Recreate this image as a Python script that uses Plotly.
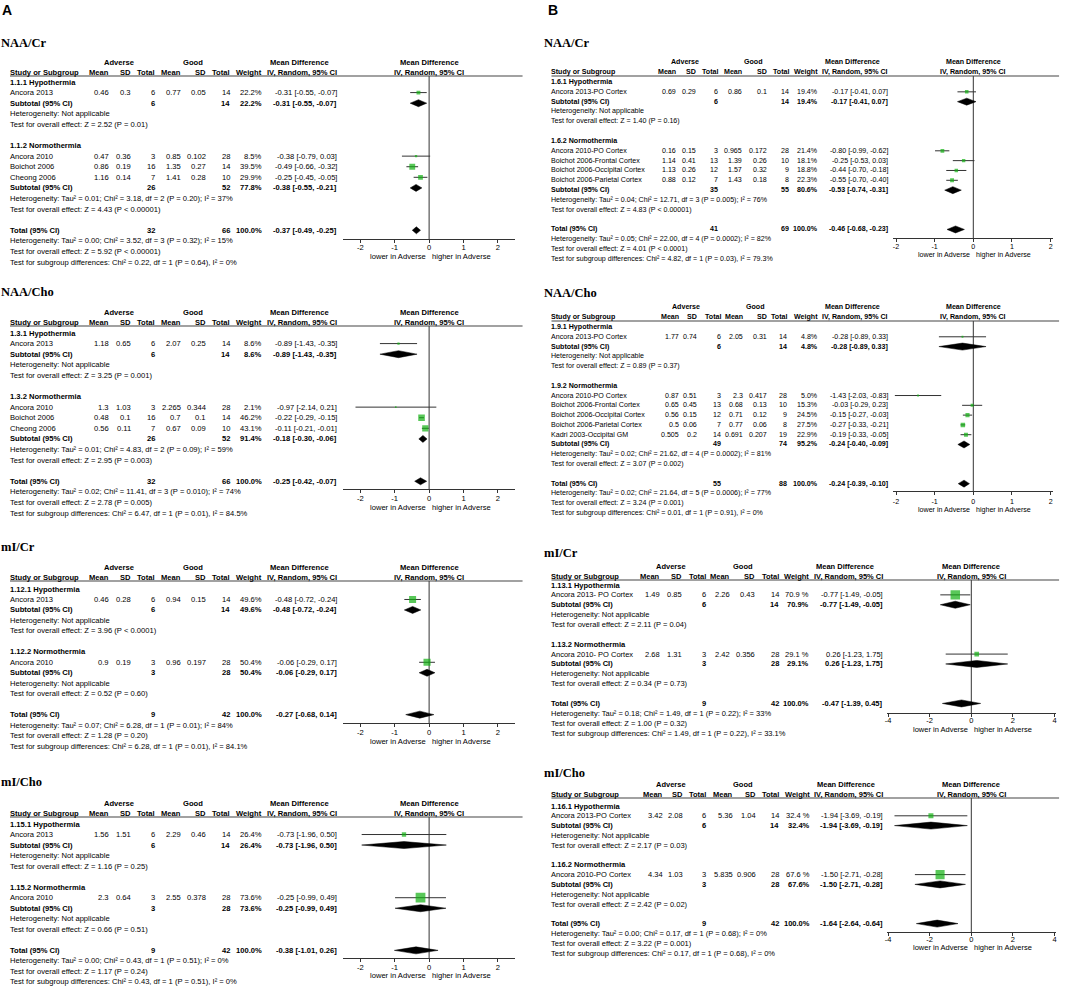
import plotly.graph_objects as go

W, H = 1084, 987
SANS = "Liberation Sans, Arial, sans-serif"
SERIF = "Times New Roman, Liberation Serif, serif"
GREEN = "#12b012"

# ---------------- data ----------------
HEAD_TOP = ["Adverse", "Good", "Mean Difference"]
HEAD_COLS = ["Mean", "SD", "Total", "Mean", "SD", "Total", "Weight", "IV, Random, 95% CI"]
HEAD_STUDY = "Study or Subgroup"
FOREST_HEAD = ["Mean Difference", "IV, Random, 95% CI"]
FAVOURS = ["lower in Adverse", "higher in Adverse"]
TICKS_2 = [-2, -1, 0, 1, 2]
TICK_TEXT_2 = ["-2", "-1", "0", "1", "2"]
TICKS_4 = [-4, -2, 0, 2, 4]
TICK_TEXT_4 = ["-4", "-2", "0", "2", "4"]
NA = "Heterogeneity: Not applicable"

# study rows: group, name, adverse mean, sd, total, good mean, sd, total, weight, md, lower, upper
# subtotal / total: adverse total, good total, weight, md, lower, upper

# A - NAA/Cr
A1_GROUPS = ["1.1.1 Hypothermia", "1.1.2 Normothermia"]
A1_STUDIES = [
    (0, "Ancora 2013", 0.46, 0.3, 6, 0.77, 0.05, 14, 22.2, -0.31, -0.55, -0.07),
    (1, "Ancora 2010", 0.47, 0.36, 3, 0.85, 0.102, 28, 8.5, -0.38, -0.79, 0.03),
    (1, "Boichot 2006", 0.86, 0.19, 16, 1.35, 0.27, 14, 39.5, -0.49, -0.66, -0.32),
    (1, "Cheong 2006", 1.16, 0.14, 7, 1.41, 0.28, 10, 29.9, -0.25, -0.45, -0.05),
]
A1_SUBTOTALS = [(6, 14, 22.2, -0.31, -0.55, -0.07), (26, 52, 77.8, -0.38, -0.55, -0.21)]
A1_TOTAL = (32, 66, 100.0, -0.37, -0.49, -0.25)
A1_NOTES = [
    [NA, "Test for overall effect: Z = 2.52 (P = 0.01)"],
    ["Heterogeneity: Tau² = 0.01; Chi² = 3.18, df = 2 (P = 0.20); I² = 37%",
     "Test for overall effect: Z = 4.43 (P < 0.00001)"],
    ["Heterogeneity: Tau² = 0.00; Chi² = 3.52, df = 3 (P = 0.32); I² = 15%",
     "Test for overall effect: Z = 5.92 (P < 0.00001)",
     "Test for subgroup differences: Chi² = 0.22, df = 1 (P = 0.64), I² = 0%"],
]

# A - NAA/Cho
A2_GROUPS = ["1.3.1 Hypothermia", "1.3.2 Normothermia"]
A2_STUDIES = [
    (0, "Ancora 2013", 1.18, 0.65, 6, 2.07, 0.25, 14, 8.6, -0.89, -1.43, -0.35),
    (1, "Ancora 2010", 1.3, 1.03, 3, 2.265, 0.344, 28, 2.1, -0.97, -2.14, 0.21),
    (1, "Boichot 2006", 0.48, 0.1, 16, 0.7, 0.1, 14, 46.2, -0.22, -0.29, -0.15),
    (1, "Cheong 2006", 0.56, 0.11, 7, 0.67, 0.09, 10, 43.1, -0.11, -0.21, -0.01),
]
A2_SUBTOTALS = [(6, 14, 8.6, -0.89, -1.43, -0.35), (26, 52, 91.4, -0.18, -0.30, -0.06)]
A2_TOTAL = (32, 66, 100.0, -0.25, -0.42, -0.07)
A2_NOTES = [
    [NA, "Test for overall effect: Z = 3.25 (P = 0.001)"],
    ["Heterogeneity: Tau² = 0.01; Chi² = 4.83, df = 2 (P = 0.09); I² = 59%",
     "Test for overall effect: Z = 2.95 (P = 0.003)"],
    ["Heterogeneity: Tau² = 0.02; Chi² = 11.41, df = 3 (P = 0.010); I² = 74%",
     "Test for overall effect: Z = 2.78 (P = 0.005)",
     "Test for subgroup differences: Chi² = 6.47, df = 1 (P = 0.01), I² = 84.5%"],
]

# A - mI/Cr
A3_GROUPS = ["1.12.1 Hypothermia", "1.12.2 Normothermia"]
A3_STUDIES = [
    (0, "Ancora 2013", 0.46, 0.28, 6, 0.94, 0.15, 14, 49.6, -0.48, -0.72, -0.24),
    (1, "Ancora 2010", 0.9, 0.19, 3, 0.96, 0.197, 28, 50.4, -0.06, -0.29, 0.17),
]
A3_SUBTOTALS = [(6, 14, 49.6, -0.48, -0.72, -0.24), (3, 28, 50.4, -0.06, -0.29, 0.17)]
A3_TOTAL = (9, 42, 100.0, -0.27, -0.68, 0.14)
A3_NOTES = [
    [NA, "Test for overall effect: Z = 3.96 (P < 0.0001)"],
    [NA, "Test for overall effect: Z = 0.52 (P = 0.60)"],
    ["Heterogeneity: Tau² = 0.07; Chi² = 6.28, df = 1 (P = 0.01); I² = 84%",
     "Test for overall effect: Z = 1.28 (P = 0.20)",
     "Test for subgroup differences: Chi² = 6.28, df = 1 (P = 0.01), I² = 84.1%"],
]

# A - mI/Cho
A4_GROUPS = ["1.15.1 Hypothermia", "1.15.2 Normothermia"]
A4_STUDIES = [
    (0, "Ancora 2013", 1.56, 1.51, 6, 2.29, 0.46, 14, 26.4, -0.73, -1.96, 0.50),
    (1, "Ancora 2010", 2.3, 0.64, 3, 2.55, 0.378, 28, 73.6, -0.25, -0.99, 0.49),
]
A4_SUBTOTALS = [(6, 14, 26.4, -0.73, -1.96, 0.50), (3, 28, 73.6, -0.25, -0.99, 0.49)]
A4_TOTAL = (9, 42, 100.0, -0.38, -1.01, 0.26)
A4_NOTES = [
    [NA, "Test for overall effect: Z = 1.16 (P = 0.25)"],
    [NA, "Test for overall effect: Z = 0.66 (P = 0.51)"],
    ["Heterogeneity: Tau² = 0.00; Chi² = 0.43, df = 1 (P = 0.51); I² = 0%",
     "Test for overall effect: Z = 1.17 (P = 0.24)",
     "Test for subgroup differences: Chi² = 0.43, df = 1 (P = 0.51), I² = 0%"],
]

# B - NAA/Cr
B1_GROUPS = ["1.6.1 Hypothermia", "1.6.2 Normothermia"]
B1_STUDIES = [
    (0, "Ancora 2013-PO Cortex", 0.69, 0.29, 6, 0.86, 0.1, 14, 19.4, -0.17, -0.41, 0.07),
    (1, "Ancora 2010-PO Cortex", 0.16, 0.15, 3, 0.965, 0.172, 28, 21.4, -0.80, -0.99, -0.62),
    (1, "Boichot 2006-Frontal Cortex", 1.14, 0.41, 13, 1.39, 0.26, 10, 18.1, -0.25, -0.53, 0.03),
    (1, "Boichot 2006-Occipital Cortex", 1.13, 0.26, 12, 1.57, 0.32, 9, 18.8, -0.44, -0.70, -0.18),
    (1, "Boichot 2006-Parietal Cortex", 0.88, 0.12, 7, 1.43, 0.18, 8, 22.3, -0.55, -0.70, -0.40),
]
B1_SUBTOTALS = [(6, 14, 19.4, -0.17, -0.41, 0.07), (35, 55, 80.6, -0.53, -0.74, -0.31)]
B1_TOTAL = (41, 69, 100.0, -0.46, -0.68, -0.23)
B1_NOTES = [
    [NA, "Test for overall effect: Z = 1.40 (P = 0.16)"],
    ["Heterogeneity: Tau² = 0.04; Chi² = 12.71, df = 3 (P = 0.005); I² = 76%",
     "Test for overall effect: Z = 4.83 (P < 0.00001)"],
    ["Heterogeneity: Tau² = 0.05; Chi² = 22.00, df = 4 (P = 0.0002); I² = 82%",
     "Test for overall effect: Z = 4.01 (P < 0.0001)",
     "Test for subgroup differences: Chi² = 4.82, df = 1 (P = 0.03), I² = 79.3%"],
]

# B - NAA/Cho
B2_GROUPS = ["1.9.1 Hypothermia", "1.9.2 Normothermia"]
B2_STUDIES = [
    (0, "Ancora 2013-PO Cortex", 1.77, 0.74, 6, 2.05, 0.31, 14, 4.8, -0.28, -0.89, 0.33),
    (1, "Ancora 2010-PO Cortex", 0.87, 0.51, 3, 2.3, 0.417, 28, 5.0, -1.43, -2.03, -0.83),
    (1, "Boichot 2006-Frontal Cortex", 0.65, 0.45, 13, 0.68, 0.13, 10, 15.3, -0.03, -0.29, 0.23),
    (1, "Boichot 2006-Occipital Cortex", 0.56, 0.15, 12, 0.71, 0.12, 9, 24.5, -0.15, -0.27, -0.03),
    (1, "Boichot 2006-Parietal Cortex", 0.5, 0.06, 7, 0.77, 0.06, 8, 27.5, -0.27, -0.33, -0.21),
    (1, "Kadri 2003-Occipital GM", 0.505, 0.2, 14, 0.691, 0.207, 19, 22.9, -0.19, -0.33, -0.05),
]
B2_SUBTOTALS = [(6, 14, 4.8, -0.28, -0.89, 0.33), (49, 74, 95.2, -0.24, -0.40, -0.09)]
B2_TOTAL = (55, 88, 100.0, -0.24, -0.39, -0.10)
B2_NOTES = [
    [NA, "Test for overall effect: Z = 0.89 (P = 0.37)"],
    ["Heterogeneity: Tau² = 0.02; Chi² = 21.62, df = 4 (P = 0.0002); I² = 81%",
     "Test for overall effect: Z = 3.07 (P = 0.002)"],
    ["Heterogeneity: Tau² = 0.02; Chi² = 21.64, df = 5 (P = 0.0006); I² = 77%",
     "Test for overall effect: Z = 3.24 (P = 0.001)",
     "Test for subgroup differences: Chi² = 0.01, df = 1 (P = 0.91), I² = 0%"],
]

# B - mI/Cr
B3_GROUPS = ["1.13.1 Hypothermia", "1.13.2 Normothermia"]
B3_STUDIES = [
    (0, "Ancora 2013- PO Cortex", 1.49, 0.85, 6, 2.26, 0.43, 14, 70.9, -0.77, -1.49, -0.05),
    (1, "Ancora 2010- PO Cortex", 2.68, 1.31, 3, 2.42, 0.356, 28, 29.1, 0.26, -1.23, 1.75),
]
B3_SUBTOTALS = [(6, 14, 70.9, -0.77, -1.49, -0.05), (3, 28, 29.1, 0.26, -1.23, 1.75)]
B3_TOTAL = (9, 42, 100.0, -0.47, -1.39, 0.45)
B3_NOTES = [
    [NA, "Test for overall effect: Z = 2.11 (P = 0.04)"],
    [NA, "Test for overall effect: Z = 0.34 (P = 0.73)"],
    ["Heterogeneity: Tau² = 0.18; Chi² = 1.49, df = 1 (P = 0.22); I² = 33%",
     "Test for overall effect: Z = 1.00 (P = 0.32)",
     "Test for subgroup differences: Chi² = 1.49, df = 1 (P = 0.22), I² = 33.1%"],
]

# B - mI/Cho
B4_GROUPS = ["1.16.1 Hypothermia", "1.16.2 Normothermia"]
B4_STUDIES = [
    (0, "Ancora 2013-PO Cortex", 3.42, 2.08, 6, 5.36, 1.04, 14, 32.4, -1.94, -3.69, -0.19),
    (1, "Ancora 2010-PO Cortex", 4.34, 1.03, 3, 5.835, 0.906, 28, 67.6, -1.50, -2.71, -0.28),
]
B4_SUBTOTALS = [(6, 14, 32.4, -1.94, -3.69, -0.19), (3, 28, 67.6, -1.50, -2.71, -0.28)]
B4_TOTAL = (9, 42, 100.0, -1.64, -2.64, -0.64)
B4_NOTES = [
    [NA, "Test for overall effect: Z = 2.17 (P = 0.03)"],
    [NA, "Test for overall effect: Z = 2.42 (P = 0.02)"],
    ["Heterogeneity: Tau² = 0.00; Chi² = 0.17, df = 1 (P = 0.68); I² = 0%",
     "Test for overall effect: Z = 3.22 (P = 0.001)",
     "Test for subgroup differences: Chi² = 0.17, df = 1 (P = 0.68), I² = 0%"],
]

# ---------------- layout of the eight panels (pixels) ----------------
A_COLS = [107, 129, 153, 179, 205, 229, 261, 336]
A_HEADS = [117, 192, 298]
PANELS = [
    dict(title="NAA/Cr", d=(A1_GROUPS, A1_STUDIES, A1_SUBTOTALS, A1_TOTAL, A1_NOTES),
         tx=-1, ty=43, top=76, bottom=239, r0=82, dy=10.59, zero=428.3, unit=34.5, rng=2.5,
         ticks=(TICKS_2, TICK_TEXT_2), left=8, cols=A_COLS, heads=A_HEADS, lend=522, fs=7.6,
         fav=17.5, stand=-2, pct="%"),
    dict(title="NAA/Cho", d=(A2_GROUPS, A2_STUDIES, A2_SUBTOTALS, A2_TOTAL, A2_NOTES),
         tx=-1, ty=292, top=326, bottom=489, r0=333, dy=10.59, zero=428.3, unit=34.5, rng=2.5,
         ticks=(TICKS_2, TICK_TEXT_2), left=8, cols=A_COLS, heads=A_HEADS, lend=522, fs=7.6,
         fav=18, stand=-1, pct="%"),
    dict(title="mI/Cr", d=(A3_GROUPS, A3_STUDIES, A3_SUBTOTALS, A3_TOTAL, A3_NOTES),
         tx=-1, ty=547, top=581, bottom=723, r0=589, dy=10.47, zero=428.3, unit=34.5, rng=2.5,
         ticks=(TICKS_2, TICK_TEXT_2), left=8, cols=A_COLS, heads=A_HEADS, lend=522, fs=7.6,
         fav=18, stand=-1, pct="%"),
    dict(title="mI/Cho", d=(A4_GROUPS, A4_STUDIES, A4_SUBTOTALS, A4_TOTAL, A4_NOTES),
         tx=-1, ty=782, top=817, bottom=958, r0=824, dy=10.53, zero=428.3, unit=34.5, rng=2.5,
         ticks=(TICKS_2, TICK_TEXT_2), left=8, cols=A_COLS, heads=A_HEADS, lend=522, fs=7.6,
         fav=17.5, stand=-1, pct="%"),
    dict(title="NAA/Cr", d=(B1_GROUPS, B1_STUDIES, B1_SUBTOTALS, B1_TOTAL, B1_NOTES),
         tx=544, ty=43, top=76, bottom=238, r0=82, dy=9.83, zero=974, unit=38.75, rng=2.07,
         ticks=(TICKS_2, TICK_TEXT_2), left=551, cols=[676, 696, 718, 742, 767, 789, 818, 888],
         heads=[685, 754, 853], lend=1060, fs=7.1, fav=16.5, stand=-2, pct="%"),
    dict(title="NAA/Cho", d=(B2_GROUPS, B2_STUDIES, B2_SUBTOTALS, B2_TOTAL, B2_NOTES),
         tx=544, ty=293, top=321, bottom=491, r0=327, dy=9.79, zero=974, unit=38.75, rng=2.07,
         ticks=(TICKS_2, TICK_TEXT_2), left=551, cols=[679, 697, 721, 743, 767, 787, 818, 888],
         heads=[686, 756, 853], lend=1060, fs=7.1, fav=19, stand=0, pct="%"),
    dict(title="mI/Cr", d=(B3_GROUPS, B3_STUDIES, B3_SUBTOTALS, B3_TOTAL, B3_NOTES),
         tx=544, ty=553, top=580, bottom=713, r0=585, dy=9.87, zero=972, unit=20.875, rng=4.05,
         ticks=(TICKS_4, TICK_TEXT_4), left=551, cols=[660, 682, 706, 730, 755, 779, 809, 883],
         heads=[671, 743, 845], lend=1060, fs=7.5, fav=16.5, stand=-3, pct=" %"),
    dict(title="mI/Cho", d=(B4_GROUPS, B4_STUDIES, B4_SUBTOTALS, B4_TOTAL, B4_NOTES),
         tx=544, ty=773, top=798, bottom=932, r0=806, dy=9.8, zero=972, unit=20.875, rng=4.05,
         ticks=(TICKS_4, TICK_TEXT_4), left=551, cols=[663, 683, 706, 733, 756, 779, 810, 883],
         heads=[671, 743, 846], lend=1060, fs=7.5, fav=15.5, stand=-3, pct=" %"),
]


def ci(md, lo, hi):
    return f"{md:.2f} [{lo:.2f}, {hi:.2f}]"


def px(v):
    return v / W


def py(v):
    return 1 - v / H


fig = go.Figure()
ann = []
shapes = []


def txt(s, x, y, yref, anchor="right", bold=False, size=7.5, xref="paper", yshift=0, xshift=0):
    ann.append(dict(text=f"<b>{s}</b>" if bold else s, x=x, y=y, xref=xref, yref=yref,
                    xanchor=anchor, yanchor="middle", yshift=yshift, xshift=xshift,
                    showarrow=False, borderpad=0, borderwidth=0,
                    font=dict(size=size, color="black", family=SANS)))


for k, p in enumerate(PANELS, start=1):
    sfx = "" if k == 1 else str(k)
    xa, ya = "x" + sfx, "y" + sfx
    groups, studies, subtotals, total, notes = p["d"]
    fs = p["fs"]
    cols = [px(c) for c in p["cols"]]

    ci_x, ci_y, sq_x, sq_y, sq_s = [], [], [], [], []
    dia_x, dia_y = [], []
    h = 3.5 / p["dy"]
    r = 0
    for g, gname in enumerate(groups):
        txt(gname, px(p["left"]), r, ya, "left", True, fs)
        r += 1
        for s in studies:
            if s[0] != g:
                continue
            _, name, m1, s1, n1, m2, s2, n2, w, md, lo, hi = s
            txt(name, px(p["left"]), r, ya, "left", False, fs)
            vals = [f"{m1:g}", f"{s1:g}", str(n1), f"{m2:g}", f"{s2:g}", str(n2),
                    f"{w:.1f}{p['pct']}", ci(md, lo, hi)]
            for c, v in zip(cols, vals):
                txt(v, c, r, ya, "right", False, fs)
            ci_x += [lo, hi, None]
            ci_y += [r, r, None]
            sq_x.append(md)
            sq_y.append(r)
            sq_s.append(1.3 + 0.115 * w)
            r += 1
        n1, n2, w, md, lo, hi = subtotals[g]
        txt("Subtotal (95% CI)", px(p["left"]), r, ya, "left", True, fs)
        for c, v in [(cols[2], str(n1)), (cols[5], str(n2)), (cols[6], f"{w:.1f}%"),
                     (cols[7], ci(md, lo, hi))]:
            txt(v, c, r, ya, "right", True, fs)
        dia_x += [lo, md, hi, md, lo, None]
        dia_y += [r, r - h, r, r + h, r, None]
        r += 1
        for note in notes[g]:
            txt(note, px(p["left"]), r, ya, "left", False, fs)
            r += 1
        r += 1
    n1, n2, w, md, lo, hi = total
    txt("Total (95% CI)", px(p["left"]), r, ya, "left", True, fs)
    for c, v in [(cols[2], str(n1)), (cols[5], str(n2)), (cols[6], f"{w:.1f}%"),
                 (cols[7], ci(md, lo, hi))]:
        txt(v, c, r, ya, "right", True, fs)
    dia_x += [lo, md, hi, md, lo, None]
    dia_y += [r, r - h, r, r + h, r, None]
    r += 1
    for note in notes[-1]:
        txt(note, px(p["left"]), r, ya, "left", False, fs)
        r += 1

    # y axis covers all rows of the panel, the x axis sits at the forest's foot
    ybot = min(p["r0"] + (r - 0.4) * p["dy"], H - 0.5)

    # headers
    yd = ya + " domain"
    for c, v in zip(p["heads"], HEAD_TOP):
        txt(v, px(c), 1, yd, "center", True, fs, yshift=14)
    txt(HEAD_STUDY, px(p["left"]), 1, yd, "left", True, fs, yshift=4)
    for c, v in zip(cols, HEAD_COLS):
        txt(v, c, 1, yd, "right", True, fs, yshift=4)
    txt(FOREST_HEAD[0], 0, 1, yd, "center", True, fs, xref=xa, yshift=14)
    txt(FOREST_HEAD[1], 0, 1, yd, "center", True, fs, xref=xa, yshift=4)
    txt(FAVOURS[0], 0, py(p["bottom"]), "paper", "right", False, fs, xref=xa,
        yshift=-p["fav"], xshift=-3)
    txt(FAVOURS[1], 0, py(p["bottom"]), "paper", "left", False, fs, xref=xa,
        yshift=-p["fav"], xshift=3)

    # panel title
    ann.append(dict(text=f"<b>{p['title']}</b>", x=px(p["tx"]), y=py(p["ty"]),
                    xref="paper", yref="paper", xanchor="left", yanchor="middle",
                    showarrow=False, borderpad=0, borderwidth=0,
                    font=dict(size=12.5, color="black", family=SERIF)))

    # header rule and line of no effect
    shapes.append(dict(type="line", xref="paper", yref=yd, x0=px(p["left"]), x1=px(p["lend"]),
                       y0=1, y1=1, line=dict(color="#444", width=1.2)))
    shapes.append(dict(type="line", xref=xa, yref="paper", x0=0, x1=0,
                       y0=py(p["bottom"]), y1=py(p["top"]), layer="below",
                       line=dict(color="#333", width=1)))

    # marks
    fig.add_trace(go.Scatter(x=ci_x, y=ci_y, mode="lines", xaxis=xa, yaxis=ya,
                             line=dict(color="#333", width=1), hoverinfo="skip"))
    fig.add_trace(go.Scatter(x=sq_x, y=sq_y, mode="markers", xaxis=xa, yaxis=ya,
                             marker=dict(symbol="square", size=sq_s, color=GREEN,
                                         line=dict(width=0))))
    fig.add_trace(go.Scatter(x=dia_x, y=dia_y, mode="lines", fill="toself", xaxis=xa, yaxis=ya,
                             fillcolor="black", line=dict(color="black", width=0.5)))

    rng = p["rng"]
    fig.update_layout(**{
        "xaxis" + sfx: dict(domain=[px(p["zero"] - rng * p["unit"]), px(p["zero"] + rng * p["unit"])],
                            range=[-rng, rng], anchor="free", position=py(p["bottom"]),
                            showgrid=False, zeroline=False, showline=True,
                            linecolor="#333", linewidth=1, ticks="outside", ticklen=3,
                            tickcolor="#333", tickvals=p["ticks"][0], ticktext=p["ticks"][1],
                            ticklabelstandoff=p["stand"],
                            tickfont=dict(size=fs, color="black", family=SANS), fixedrange=True),
        "yaxis" + sfx: dict(domain=[py(ybot), py(p["top"])],
                            range=[(ybot - p["r0"]) / p["dy"], (p["top"] - p["r0"]) / p["dy"]],
                            anchor=xa, visible=False, fixedrange=True),
    })

# panel letters
for letter, x in [("A", 0), ("B", 548)]:
    ann.append(dict(text=f"<b>{letter}</b>", x=px(x), y=py(10), xref="paper", yref="paper",
                    xanchor="left", yanchor="middle", showarrow=False, borderpad=0, borderwidth=0,
                    font=dict(size=14, color="black", family=SANS)))

fig.update_layout(width=W, height=H, margin=dict(l=0, r=0, t=0, b=0),
                  paper_bgcolor="white", plot_bgcolor="white", showlegend=False,
                  annotations=ann, shapes=shapes)

fig.write_html("out.html", config={"displayModeBar": False},
               post_script="document.body.style.margin='0px';")
